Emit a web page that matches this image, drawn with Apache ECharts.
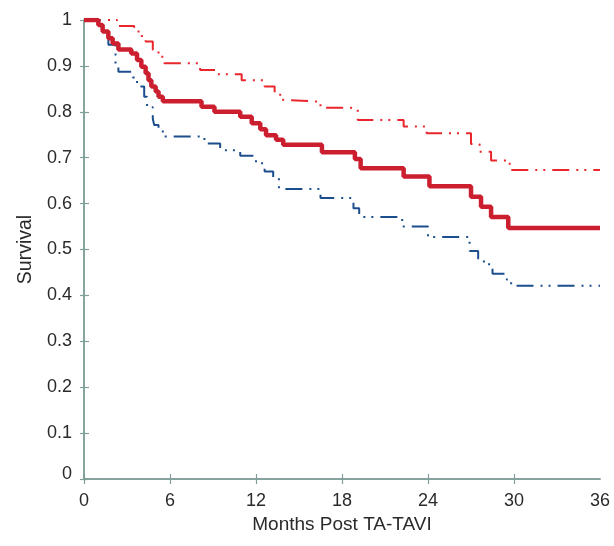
<!DOCTYPE html>
<html>
<head>
<meta charset="utf-8">
<script src="https://cdn.jsdelivr.net/npm/echarts@6/dist/echarts.min.js"></script>
<style>
html,body{margin:0;padding:0;background:#fff;}
#chart{width:614px;height:546px;}
</style>
</head>
<body>
<div id="chart"></div>
<script>
// Kaplan-Meier survival estimate (months, survival)
var survivalKM = [[0,1],[1.0,0.989],[1.3,0.975],[1.7,0.96],[2.0,0.949],[2.4,0.936],[3.3,0.927],[3.7,0.913],[4.0,0.898],[4.3,0.884],[4.5,0.869],[4.7,0.855],[5.0,0.844],[5.2,0.833],[5.5,0.823],[8.2,0.811],[9.1,0.800],[10.9,0.789],[11.7,0.775],[12.3,0.762],[12.7,0.749],[13.4,0.739],[13.9,0.728],[16.6,0.712],[18.9,0.697],[19.3,0.677],[22.3,0.659],[24.1,0.638],[27.0,0.615],[27.7,0.593],[28.4,0.571],[29.6,0.547],[36,0.547]];
// Upper 95% confidence limit
var upperCI = [[0,1],[2.3,0.987],[3.5,0.975],[4.0,0.965],[4.3,0.953],[4.8,0.935],[5.2,0.92],[5.6,0.906],[8.1,0.891],[9.3,0.882],[11.0,0.869],[12.6,0.855],[13.3,0.837],[13.8,0.826],[14.0,0.822],[16.5,0.809],[18.6,0.805],[19.1,0.782],[22.3,0.768],[23.9,0.753],[27.0,0.730],[27.6,0.713],[28.4,0.694],[29.7,0.673],[36,0.673]];
// Lower 95% confidence limit
var lowerCI = [[0,1],[1.1,0.985],[1.5,0.965],[1.7,0.946],[2.2,0.905],[2.4,0.887],[3.4,0.875],[3.7,0.855],[4.2,0.833],[4.4,0.81],[4.8,0.785],[4.9,0.771],[5.2,0.76],[5.5,0.746],[8.4,0.731],[9.5,0.716],[10.9,0.704],[12.0,0.688],[12.6,0.670],[13.2,0.656],[13.6,0.632],[16.5,0.612],[18.8,0.590],[19.2,0.571],[22.2,0.550],[24.0,0.527],[26.9,0.497],[27.5,0.48],[27.9,0.468],[28.5,0.447],[29.5,0.434],[29.8,0.421],[36,0.421]];

var xTicks = [0, 6, 12, 18, 24, 30, 36];
var xTickMarks = [0, 6, 12, 18, 24, 30];
var yTicks = [0, 0.1, 0.2, 0.3, 0.4, 0.5, 0.6, 0.7, 0.8, 0.9, 1];
var xTitle = 'Months Post TA-TAVI';
var yTitle = 'Survival';

var axisColor = '#7f9e98';
var textColor = '#2a2a2a';
var fontFam = '"Liberation Sans", Arial, sans-serif';
var dashPattern = [17, 7, 2, 6, 2, 7];

var chart = echarts.init(document.getElementById('chart'), null, {renderer: 'canvas'});
var baseX = {
  type: 'value', min: xTicks[0], max: xTicks[xTicks.length - 1], interval: xTicks[1] - xTicks[0],
  splitLine: {show: false},
  axisLine: {show: true, lineStyle: {color: axisColor, width: 1.5}}
};
var baseY = {
  type: 'value', min: yTicks[0], max: yTicks[yTicks.length - 1], interval: 0.1,
  splitLine: {show: false},
  axisLine: {show: true, lineStyle: {color: axisColor, width: 1.5}}
};
chart.setOption({
  animation: false,
  backgroundColor: '#ffffff',
  grid: {left: 84, right: 14, top: 20, bottom: 67, containLabel: false},
  xAxis: [
    Object.assign({}, baseX, {
      name: xTitle, nameLocation: 'middle', nameGap: 34,
      nameTextStyle: {fontSize: 19, color: textColor, fontFamily: fontFam},
      axisTick: {show: true, inside: false, length: 5, customValues: xTickMarks, lineStyle: {color: axisColor, width: 1.2}},
      axisLabel: {fontSize: 18, color: textColor, fontFamily: fontFam, margin: 13}
    }),
    Object.assign({}, baseX, {
      position: 'bottom',
      axisTick: {show: true, inside: true, length: 5, customValues: xTickMarks, lineStyle: {color: axisColor, width: 1.2}},
      axisLabel: {show: false}
    })
  ],
  yAxis: [
    Object.assign({}, baseY, {
      name: yTitle, nameLocation: 'middle', nameGap: 46, nameRotate: 90,
      nameTextStyle: {fontSize: 19.5, color: textColor, fontFamily: fontFam},
      axisTick: {show: true, inside: false, length: 4, lineStyle: {color: axisColor, width: 1.2}},
      axisLabel: {fontSize: 18, color: textColor, fontFamily: fontFam, margin: 12,
        formatter: function (v) {
          var s = String(+v.toFixed(1));
          return s === '0' ? '{z|0}' : s;
        },
        rich: {z: {fontSize: 18, color: textColor, fontFamily: fontFam, padding: [0, 0, 10, 0]}}
      }
    }),
    Object.assign({}, baseY, {
      position: 'left',
      axisTick: {show: true, inside: true, length: 5, lineStyle: {color: axisColor, width: 1.2}},
      axisLabel: {show: false}
    })
  ],
  series: [
    {
      name: 'Upper CI', type: 'line', step: 'end', data: upperCI, showSymbol: false, symbol: 'none',
      lineStyle: {color: '#e8262c', width: 2, type: dashPattern, cap: 'butt'}, z: 2
    },
    {
      name: 'Lower CI', type: 'line', step: 'end', data: lowerCI, showSymbol: false, symbol: 'none',
      lineStyle: {color: '#1c4e8e', width: 2, type: dashPattern, cap: 'butt'}, z: 2
    },
    {
      name: 'Survival', type: 'line', step: 'end', data: survivalKM, showSymbol: false, symbol: 'none',
      lineStyle: {color: '#cb1f2f', width: 4.5}, z: 3
    }
  ]
});
</script>
</body>
</html>
